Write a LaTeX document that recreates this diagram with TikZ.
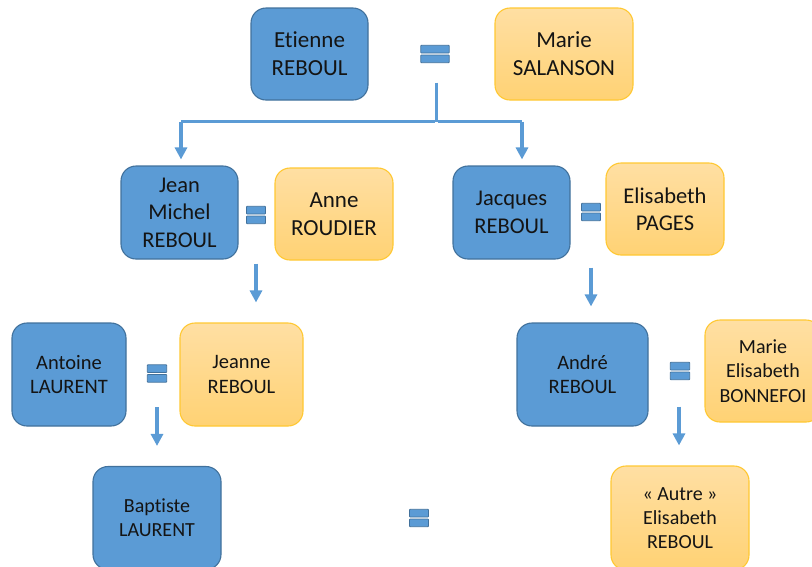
\documentclass[tikz,border=0pt]{standalone}
\usepackage{fontspec}
\setmainfont[Ligatures=NoCommon]{Carlito}
\usetikzlibrary{arrows.meta}
\definecolor{bfill}{HTML}{5B9BD5}
\definecolor{bdraw}{HTML}{41719C}
\definecolor{otop}{HTML}{FFDFA3}
\definecolor{obot}{HTML}{FFD274}
\definecolor{odraw}{HTML}{FFC832}
\definecolor{txt}{HTML}{141414}
\tikzset{
  person/.style={rounded corners=15pt, line width=1.1pt, align=center, text=txt, inner sep=2pt},
  man/.style={person, fill=bfill, draw=bdraw},
  woman/.style={person, top color=otop, bottom color=obot, draw=odraw},
  big/.style={font=\fontsize{23}{28}\selectfont},
  small/.style={font=\fontsize{20.5}{24.5}\selectfont},
  eqn/.style={inner sep=0pt, minimum height=17pt},
  eqbar/.style={fill=bfill, draw=bdraw, line width=0.8pt, rounded corners=0.6pt},
  conn/.style={draw=bfill, line width=3.6pt},
  arr/.style={conn, -{Triangle[width=12pt,length=12pt]}},
}
\newcommand{\eqbars}[1]{%
  \draw[eqbar] (#1.north west) rectangle ([yshift=1pt]#1.east);
  \draw[eqbar] ([yshift=-1pt]#1.west) rectangle (#1.south east);}
\begin{document}
\begin{tikzpicture}[x=1pt,y=-1pt]
\useasboundingbox (0,0) rectangle (812,566);
\clip (0,0) rectangle (812,566);
% generation 1
\node[man,big,minimum width=117pt,minimum height=92pt] (etienne) at (309.5,54) {Etienne\\REBOUL};
\node[woman,big,minimum width=138pt,minimum height=92pt] (marieS) at (564,54) {Marie\\SALANSON};
\node[eqn,minimum width=28pt] (eqTop) at (435,54) {};
\eqbars{eqTop}
% generation 2
\node[man,big,font=\fontsize{22.5}{27.5}\selectfont,minimum width=117pt,minimum height=93pt] (jeanM) at (179.5,212.5) {Jean\\Michel\\REBOUL};
\node[woman,big,minimum width=118pt,minimum height=92pt] (anne) at (334,214) {Anne\\ROUDIER};
\node[eqn,minimum width=18.5pt] (eqJM) at (256,215) {};
\eqbars{eqJM}
\node[man,big,font=\fontsize{22.5}{27.5}\selectfont,minimum width=117pt,minimum height=93pt] (jacques) at (511.5,212.5) {Jacques\\REBOUL};
\node[woman,big,font=\fontsize{22.5}{27}\selectfont,minimum width=118pt,minimum height=92pt] (elisP) at (665,209) {Elisabeth\\PAGES};
\node[eqn,minimum width=18.5pt] (eqJac) at (591,212) {};
\eqbars{eqJac}
% generation 3
\node[man,small,minimum width=114pt,minimum height=103pt] (antoine) at (69,374.5) {Antoine\\LAURENT};
\node[woman,small,minimum width=123pt,minimum height=103pt] (jeanne) at (241.5,374.5) {Jeanne\\REBOUL};
\node[eqn,minimum width=19pt] (eqAnt) at (157,373.5) {};
\eqbars{eqAnt}
\node[man,small,minimum width=131pt,minimum height=103pt] (andre) at (582.5,374.5) {André\\REBOUL};
\node[woman,small,font=\fontsize{20}{24.5}\selectfont,minimum width=116pt,minimum height=102pt] (marieB) at (763,371) {Marie\\Elisabeth\\BONNEFOI};
\node[eqn,minimum width=19pt] (eqAnd) at (680,371) {};
\eqbars{eqAnd}
% generation 4
\node[man,small,font=\fontsize{20}{24}\selectfont,minimum width=128pt,minimum height=103pt] (baptiste) at (157,518) {Baptiste\\LAURENT};
\node[woman,small,font=\fontsize{20}{24}\selectfont,minimum width=138pt,minimum height=104pt] (autre) at (680,518) {« Autre »\\Elisabeth\\REBOUL};
\node[eqn,minimum width=18.5pt] (eqBot) at (419,518) {};
\eqbars{eqBot}
% connectors
\coordinate (jn) at (436.5,121.5);
\draw[conn, shorten <=20pt] (eqTop.south -| jn) -- (jn);
\draw[conn] ([xshift=-1.8pt]jn) -- (jn -| 181,0);
\draw[conn] ([xshift=1.8pt]jn) -- (jn -| 522,0);
\draw[arr, shorten >=6pt] (jn -| 181,0) -- ([xshift=1.5pt]jeanM.north);
\draw[arr, shorten >=6pt] (jn -| 522,0) -- ([xshift=10.5pt]jacques.north);
\draw[arr, shorten <=40pt, shorten >=20pt] (eqJM.south) -- (eqJM.south |- jeanne.north);
\draw[arr, shorten <=47pt, shorten >=16pt] (eqJac.south) -- (eqJac.south |- andre.north);
\draw[arr, shorten <=25pt, shorten >=20pt] (eqAnt.south) -- (eqAnt.south |- baptiste.north);
\draw[arr, shorten <=27pt, shorten >=20pt] ([xshift=-1pt]eqAnd.south) -- ([xshift=-1pt]eqAnd.south |- autre.north);
\end{tikzpicture}
\end{document}
